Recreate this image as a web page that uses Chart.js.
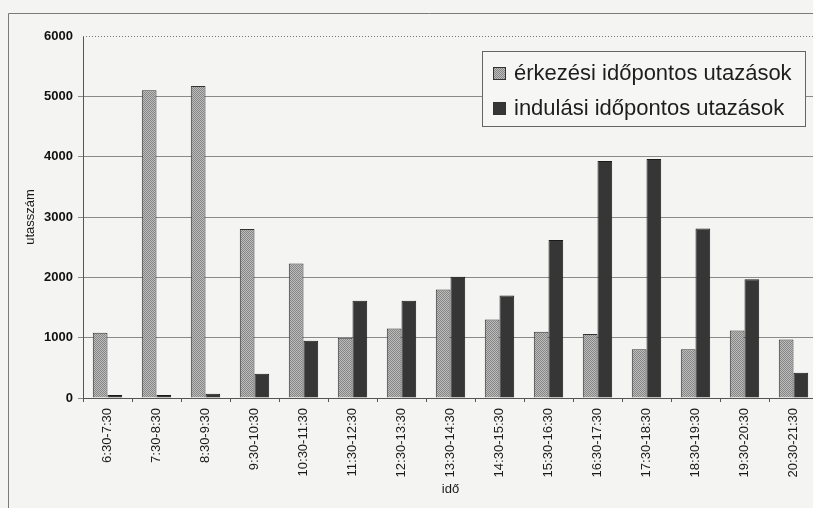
<!DOCTYPE html>
<html>
<head>
<meta charset="utf-8">
<script src="https://cdn.jsdelivr.net/npm/chart.js@4/dist/chart.umd.min.js"></script>
<style>
    html, body { margin: 0; padding: 0; background: #f4f4f2; overflow: hidden; }
    #wrap { position: absolute; left: 0; top: 0; }
</style>
</head>
<body>
<div id="wrap"><canvas id="chart" width="850" height="520"></canvas></div>
<script>
// Time slots and passenger counts
const timeSlots = [
    '6:30-7:30', '7:30-8:30', '8:30-9:30', '9:30-10:30', '10:30-11:30',
    '11:30-12:30', '12:30-13:30', '13:30-14:30', '14:30-15:30', '15:30-16:30',
    '16:30-17:30', '17:30-18:30', '18:30-19:30', '19:30-20:30', '20:30-21:30'
];
const arrivalTrips = [1080, 5100, 5170, 2800, 2230, 1000, 1150, 1800, 1300, 1100, 1060, 810, 810, 1120, 970];
const departureTrips = [50, 50, 70, 400, 950, 1610, 1610, 2010, 1700, 2620, 3930, 3960, 2810, 1970, 420];
const seriesNames = ['érkezési időpontos utazások', 'indulási időpontos utazások'];
const yTicks = [0, 1000, 2000, 3000, 4000, 5000, 6000];

const FONT = 'Arial, "Liberation Sans", sans-serif';

// fine dithered grey fill for the arrival bars
function makeDither() {
    const c = document.createElement('canvas');
    c.width = 2; c.height = 2;
    const g = c.getContext('2d');
    g.fillStyle = '#bdbdbd';
    g.fillRect(0, 0, 2, 2);
    g.fillStyle = '#858585';
    g.fillRect(0, 0, 1, 1);
    g.fillRect(1, 1, 1, 1);
    return g.createPattern(c, 'repeat');
}

// outer frame, dotted top edge of the plot and the boxed legend
const decorations = {
    id: 'decorations',
    beforeDraw(chart) {
        const ctx = chart.ctx;
        ctx.save();
        ctx.strokeStyle = '#7a7a7a';
        ctx.lineWidth = 1;
        ctx.beginPath();
        ctx.moveTo(8.5, 600);
        ctx.lineTo(8.5, 13.5);
        ctx.lineTo(850, 13.5);
        ctx.stroke();
        ctx.restore();
    },
    afterDraw(chart) {
        const ctx = chart.ctx;
        const area = chart.chartArea;
        const yTop = Math.round(chart.scales.y.getPixelForValue(yTicks[yTicks.length - 1])) + 0.5;
        ctx.save();
        ctx.strokeStyle = '#777';
        ctx.setLineDash([1, 2]);
        ctx.beginPath();
        ctx.moveTo(area.left, yTop);
        ctx.lineTo(area.right, yTop);
        ctx.stroke();
        ctx.setLineDash([]);

        // legend
        const lx = 482, ly = 51, lw = 323, lh = 75;
        ctx.fillStyle = '#f6f6f4';
        ctx.fillRect(lx, ly, lw, lh);
        ctx.strokeStyle = '#666';
        ctx.strokeRect(lx + 0.5, ly + 0.5, lw, lh);
        ctx.font = '22px ' + FONT;
        ctx.textBaseline = 'middle';
        chart.data.datasets.forEach((ds, i) => {
            const cy = 73 + i * 35;
            ctx.fillStyle = ds.backgroundColor;
            ctx.fillRect(493, cy - 6, 13, 13);
            ctx.strokeStyle = '#333';
            ctx.strokeRect(493.5, cy - 5.5, 12, 12);
            ctx.fillStyle = '#1e1e1e';
            ctx.fillText(ds.label, 514, cy + 1);
        });
        ctx.restore();
    }
};

const ctx = document.getElementById('chart').getContext('2d');
new Chart(ctx, {
    type: 'bar',
    data: {
        labels: timeSlots,
        datasets: [{
            label: seriesNames[0],
            data: arrivalTrips,
            backgroundColor: makeDither(),
            borderColor: '#333',
            borderWidth: 1
        }, {
            label: seriesNames[1],
            data: departureTrips,
            backgroundColor: '#363636',
            borderColor: '#1a1a1a',
            borderWidth: 1
        }]
    },
    options: {
        responsive: false,
        animation: false,
        devicePixelRatio: 1,
        layout: { padding: { top: 36, right: 32, bottom: 0, left: 0 } },
        datasets: { bar: { categoryPercentage: 0.6, barPercentage: 1.0 } },
        plugins: {
            legend: { display: false },
            tooltip: { enabled: false }
        },
        scales: {
            x: {
                afterFit(scale) { scale.height = 122; },
                grid: { drawOnChartArea: false, tickLength: 4, color: '#555' },
                border: { color: '#555' },
                ticks: {
                    autoSkip: false,
                    minRotation: 90,
                    maxRotation: 90,
                    padding: 6,
                    color: '#1a1a1a',
                    font: { family: FONT, size: 13 }
                },
                title: {
                    display: true,
                    text: 'idő',
                    color: '#1a1a1a',
                    padding: { top: 0, bottom: 23 },
                    font: { family: FONT, size: 13 }
                }
            },
            y: {
                min: 0,
                max: 6000,
                afterFit(scale) { scale.width = 83; },
                afterBuildTicks(scale) { scale.ticks = yTicks.map(v => ({ value: v })); },
                grid: {
                    tickLength: 5,
                    color: c => c.tick && c.tick.value === 6000 ? 'rgba(0,0,0,0)' : '#8a8a8a'
                },
                border: { color: '#555' },
                ticks: {
                    padding: 5,
                    color: '#111',
                    font: { family: FONT, size: 13, weight: 'bold' },
                    callback: v => String(v)
                },
                title: {
                    display: true,
                    text: 'utasszám',
                    color: '#1a1a1a',
                    padding: { top: 23, bottom: 0 },
                    font: { family: FONT, size: 13 }
                }
            }
        }
    },
    plugins: [decorations]
});
</script>
</body>
</html>
